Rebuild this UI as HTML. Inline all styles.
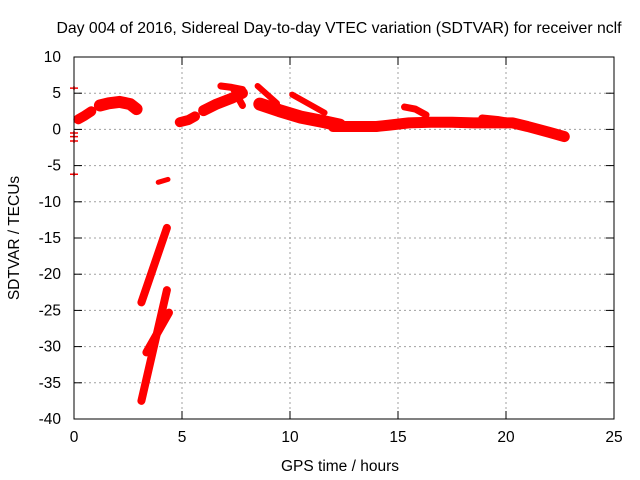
<!DOCTYPE html>
<html><head><meta charset="utf-8"><style>
html,body{margin:0;padding:0;background:#fff;}
svg{display:block;font-family:"Liberation Sans",sans-serif;}
</style></head><body>
<svg id="chart" width="640" height="480" xmlns="http://www.w3.org/2000/svg">
<rect width="640" height="480" fill="#fff"/>
<text x="339" y="33" font-size="15.8" text-anchor="middle">Day 004 of 2016, Sidereal Day-to-day VTEC variation (SDTVAR) for receiver nclf</text>
<text x="340" y="471" font-size="15.5" text-anchor="middle">GPS time / hours</text>
<text x="0" y="0" font-size="15.5" text-anchor="middle" transform="translate(19,238) rotate(-90)">SDTVAR / TECUs</text>
<g id="grid"></g>
<g id="marks"></g>
<g id="axes"></g>
</svg>
<script>
const xTicks = [0,5,10,15,20,25];
const yTicks = [10,5,0,-5,-10,-15,-20,-25,-30,-35,-40];
// tracks: x (hours) and y (TECU) arrays
const trackAx = [0.2,0.5,0.8], trackAy = [1.4,1.9,2.5];
const trackBx = [1.2,1.6,2.1,2.6,2.9], trackBy = [3.3,3.6,3.8,3.5,2.8];
const trackCx = [4.9,5.3,5.6], trackCy = [1.0,1.3,1.8];
const trackDx = [6.0,6.6,7.3,7.8], trackDy = [2.6,3.5,4.3,5.0];
const trackD2x = [6.8,7.3,7.8], trackD2y = [6.0,5.8,5.5];
const trackD3x = [7.4,7.8], trackD3y = [5.5,3.3];
const trackEx = [8.6,9.5,10.5,11.5,12.3], trackEy = [3.5,2.6,1.7,1.1,0.6];
const trackE2x = [8.5,9.4], trackE2y = [6.0,3.6];
const trackE3x = [10.1,11.6], trackE3y = [4.8,2.3];
const trackFx = [12.0,13.0,14.0,14.6,15.5,16.5,17.5,18.5,19.3,20.3,21.0,22.0,22.7], trackFy = [0.4,0.4,0.4,0.6,0.9,1.0,1.0,0.9,0.9,0.9,0.4,-0.4,-1.0];
const trackF2x = [15.3,15.8,16.3], trackF2y = [3.1,2.8,2.0];
const trackF3x = [18.9,19.6,20.4], trackF3y = [1.5,1.3,0.9];
const trackGx = [3.12,4.3], trackGy = [-23.9,-13.6];
const trackHx = [3.12,4.3], trackHy = [-37.5,-22.2];
const trackIx = [3.35,4.4], trackIy = [-30.8,-25.3];
const trackJx = [3.9,4.35], trackJy = [-7.3,-6.9];
const outlierX = [0,0,0,0,0], outlierY = [5.7,-0.5,-1.0,-1.6,-6.2];

const X0=74, X1=614, Y0=57, Y1=419;
const sx = v => X0 + (v-0)/(25-0)*(X1-X0);
const sy = v => Y0 + (10-v)/(10-(-40))*(Y1-Y0);
const NS="http://www.w3.org/2000/svg";
const grid=document.getElementById('grid'), marks=document.getElementById('marks'), axes=document.getElementById('axes');
function mk(tag, attrs, parent){const e=document.createElementNS(NS,tag);for(const k in attrs)e.setAttribute(k,attrs[k]);parent.appendChild(e);return e;}

xTicks.forEach(t=>{
  const x=sx(t);
  if(t>0&&t<25){const l=mk('line',{x1:x,y1:Y0,x2:x,y2:Y1,stroke:'#a0a0a0','stroke-dasharray':'2,3'},grid);
    
    }
  const a=mk('line',{x1:x,y1:Y1,x2:x,y2:Y1-8,stroke:'#000'},axes);
  
  
  const b=mk('line',{x1:x,y1:Y0,x2:x,y2:Y0+8,stroke:'#000'},axes);
  
  
  const tx=mk('text',{x:x,y:Y1+23,'font-size':15.5,'text-anchor':'middle'},axes);tx.textContent=t;
  
  
});
yTicks.forEach(t=>{
  const y=sy(t);
  if(t<10&&t>-40){const l=mk('line',{x1:X0,y1:y,x2:X1,y2:y,stroke:'#a0a0a0','stroke-dasharray':'2,3'},grid);
    
    }
  const a=mk('line',{x1:X0,y1:y,x2:X0+8,y2:y,stroke:'#000'},axes);
  
  
  const b=mk('line',{x1:X1,y1:y,x2:X1-8,y2:y,stroke:'#000'},axes);
  
  
  const tx=mk('text',{x:X0-13,y:y+5,'font-size':15.5,'text-anchor':'end'},axes);tx.textContent=t;
  
  
});
const frame=mk('rect',{x:X0,y:Y0,width:X1-X0,height:Y1-Y0,fill:'none',stroke:'#000'},axes);



const tracks=[[trackAx,trackAy,10],[trackBx,trackBy,12],[trackCx,trackCy,10],[trackDx,trackDy,11],[trackD2x,trackD2y,7],[trackD3x,trackD3y,7],
 [trackEx,trackEy,13],[trackE2x,trackE2y,6],[trackE3x,trackE3y,6],[trackFx,trackFy,11],[trackF2x,trackF2y,7],[trackF3x,trackF3y,8],
 [trackGx,trackGy,8],[trackHx,trackHy,8],[trackIx,trackIy,8],[trackJx,trackJy,5]];
tracks.forEach(([xs,ys,w])=>{
  const pts=xs.map((v,i)=>sx(v).toFixed(1)+','+sy(ys[i]).toFixed(1)).join(' ');
  const p=mk('polyline',{points:pts,fill:'none',stroke:'#ff0000','stroke-width':w,'stroke-linecap':'round','stroke-linejoin':'round'},marks);
  
  
});
outlierX.forEach((v,i)=>{
  const x=sx(v), y=sy(outlierY[i]);
  const p=mk('path',{d:`M${x-4},${y}H${x+4}M${x},${y-2}V${y+2}`,stroke:'#ff0000','stroke-width':1.5},marks);
  
  
});
</script>
</body></html>
